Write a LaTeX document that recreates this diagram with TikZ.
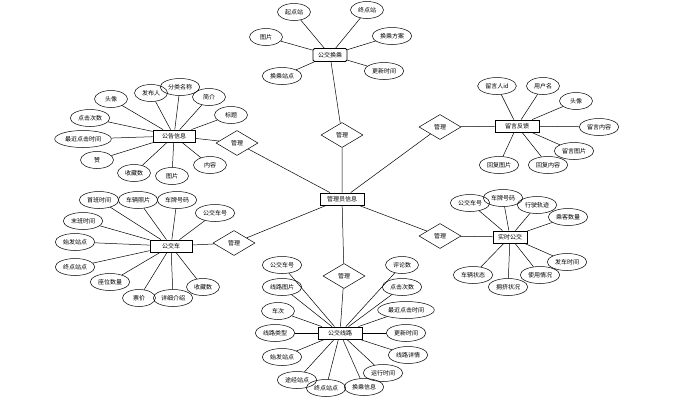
\documentclass[tikz,border=0pt]{standalone}
\usepackage{fontspec}
\setmainfont{Noto Sans CJK SC}
\usetikzlibrary{shapes.geometric}
\tikzset{
	attr/.style={draw, ellipse, line width=0.5pt, minimum width=33pt, minimum height=17pt, inner xsep=2pt, inner ysep=0pt},
	ent/.style={draw, rectangle, line width=0.8pt, minimum width=42pt, minimum height=12pt, inner sep=1pt},
	rel/.style={draw, diamond, line width=0.5pt, aspect=1.7, minimum width=42pt, minimum height=25pt, inner sep=0pt}
}

\begin{document}
\begin{tikzpicture}[x=1pt, y=-1pt, font=\fontsize{6}{7}\selectfont, line width=0.5pt]
			%%%%% START %%%%%
			\useasboundingbox[fill=white] (0, 0) rectangle (674, 405);
			
			\node[ent, minimum width=44pt] (admin) at (342, 199) {管理员信息};
			
			\node[rel] (mTop) at (342, 135) {管理};
			\node[rel] (mMsg) at (440, 127) {管理};
			\node[rel] (mNews) at (237, 143) {管理};
			\node[rel] (mBus) at (234, 243) {管理};
			\node[rel] (mLive) at (440, 236) {管理};
			\node[rel] (mLine) at (344, 276) {管理};
			
			% 公交换乘
			\node[ent, rounded corners=1.5pt, minimum width=34pt, minimum height=13pt] (transfer) at (330, 55) {公交换乘};
			\node[attr] (tA) at (294, 12) {起点站};
			\node[attr] (tB) at (367, 10) {终点站};
			\node[attr] (tC) at (266, 37) {图片};
			\node[attr] (tD) at (392, 36) {换乘方案};
			\node[attr] (tE) at (384, 71) {更新时间};
			\node[attr] (tF) at (282, 76) {换乘站点};
			
			% 留言反馈
			\node[ent, minimum width=44pt] (msg) at (517, 126) {留言反馈};
			\node[attr] (mA) at (497, 86) {留言人id};
			\node[attr] (mB) at (543, 86) {用户名};
			\node[attr] (mC) at (576, 101) {头像};
			\node[attr] (mD) at (599, 127) {留言内容};
			\node[attr] (mE) at (574, 151) {留言图片};
			\node[attr] (mF) at (499, 165) {回复图片};
			\node[attr] (mG) at (548, 165) {回复内容};
			
			% 公告信息
			\node[ent] (news) at (174, 136) {公告信息};
			\node[attr] (nA) at (111, 99) {头像};
			\node[attr] (nB) at (151, 93) {发布人};
			\node[attr] (nC) at (180, 87) {分类名称};
			\node[attr] (nD) at (209, 97) {简介};
			\node[attr] (nE) at (231, 115) {标题};
			\node[attr] (nF) at (90, 118) {点击次数};
			\node[attr] (nG) at (83, 139) {最近点击时间};
			\node[attr] (nH) at (97, 160) {赞};
			\node[attr] (nI) at (134, 173) {收藏数};
			\node[attr] (nJ) at (172, 176) {图片};
			\node[attr] (nK) at (210, 165) {内容};
			
			% 公交车
			\node[ent] (bus) at (171, 246) {公交车};
			\node[attr] (bA) at (99, 200) {首班时间};
			\node[attr] (bB) at (138, 200) {车辆照片};
			\node[attr] (bC) at (177, 200) {车牌号码};
			\node[attr] (bD) at (215, 213) {公交车号};
			\node[attr] (bE) at (83, 221) {末班时间};
			\node[attr] (bF) at (75, 242) {始发站点};
			\node[attr] (bG) at (75, 267) {终点站点};
			\node[attr] (bH) at (110, 282) {座位数量};
			\node[attr] (bI) at (139, 298) {票价};
			\node[attr] (bJ) at (173, 298) {详细介绍};
			\node[attr] (bK) at (203, 287) {收藏数};
			
			% 实时公交
			\node[ent, minimum width=34pt] (live) at (510, 237) {实时公交};
			\node[attr] (lA) at (470, 203) {公交车号};
			\node[attr] (lB) at (503, 198) {车牌号码};
			\node[attr] (lC) at (537, 205) {行驶轨迹};
			\node[attr] (lD) at (568, 217) {乘客数量};
			\node[attr] (lE) at (567, 262) {发车时间};
			\node[attr] (lF) at (473, 275) {车辆状态};
			\node[attr] (lG) at (508, 287) {拥挤状况};
			\node[attr] (lH) at (540, 275) {使用情况};
			
			% 公交线路
			\node[ent, minimum width=44pt] (line) at (340, 333) {公交线路};
			\node[attr] (rA) at (282, 265) {公交车号};
			\node[attr] (rB) at (282, 287) {线路图片};
			\node[attr] (rC) at (278, 311) {车次};
			\node[attr] (rD) at (275, 333) {线路类型};
			\node[attr] (rE) at (282, 357) {始发站点};
			\node[attr] (rF) at (297, 380) {途经站点};
			\node[attr] (rG) at (326, 388) {终点站点};
			\node[attr] (rH) at (364, 387) {换乘信息};
			\node[attr] (rI) at (383, 373) {运行时间};
			\node[attr] (rJ) at (402, 265) {评论数};
			\node[attr] (rK) at (402, 287) {点击次数};
			\node[attr] (rL) at (406, 310) {最近点击时间};
			\node[attr] (rM) at (406, 333) {更新时间};
			\node[attr] (rN) at (408, 355) {线路详情};
			
			% relations
			\draw (admin) -- (mTop) -- (transfer);
			\draw (admin) -- (mMsg) -- (msg);
			\draw (admin) -- (mNews) -- (news);
			\draw (admin) -- (mBus) -- (bus);
			\draw (admin) -- (mLive) -- (live);
			\draw (admin) -- (mLine) -- (line);
			
			% attributes
			\draw (transfer) -- (tA); \draw (transfer) -- (tB); \draw (transfer) -- (tC);
			\draw (transfer) -- (tD); \draw (transfer) -- (tE); \draw (transfer) -- (tF);
			
			\draw (msg) -- (mA); \draw (msg) -- (mB); \draw (msg) -- (mC); \draw (msg) -- (mD);
			\draw (msg) -- (mE); \draw (msg) -- (mF); \draw (msg) -- (mG);
			
			\draw (news) -- (nA); \draw (news) -- (nB); \draw (news) -- (nC); \draw (news) -- (nD);
			\draw (news) -- (nE); \draw (news) -- (nF); \draw (news) -- (nG); \draw (news) -- (nH);
			\draw (news) -- (nI); \draw (news) -- (nJ); \draw (news) -- (nK);
			
			\draw (bus) -- (bA); \draw (bus) -- (bB); \draw (bus) -- (bC); \draw (bus) -- (bD);
			\draw (bus) -- (bE); \draw (bus) -- (bF); \draw (bus) -- (bG); \draw (bus) -- (bH);
			\draw (bus) -- (bI); \draw (bus) -- (bJ); \draw (bus) -- (bK);
			
			\draw (live) -- (lA); \draw (live) -- (lB); \draw (live) -- (lC); \draw (live) -- (lD);
			\draw (live) -- (lE); \draw (live) -- (lF); \draw (live) -- (lG); \draw (live) -- (lH);
			
			\draw (line) -- (rA); \draw (line) -- (rB); \draw (line) -- (rC); \draw (line) -- (rD);
			\draw (line) -- (rE); \draw (line) -- (rF); \draw (line) -- (rG); \draw (line) -- (rH);
			\draw (line) -- (rI); \draw (line) -- (rJ); \draw (line) -- (rK); \draw (line) -- (rL);
			\draw (line) -- (rM); \draw (line) -- (rN);
			
			%%%%% END %%%%%
\end{tikzpicture}
\end{document}
